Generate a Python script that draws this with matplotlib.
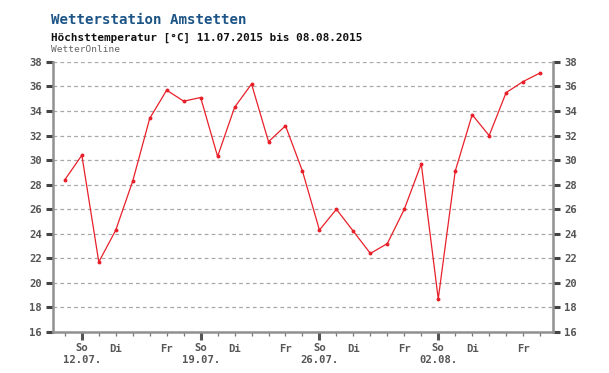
import matplotlib
matplotlib.use("Agg")
import matplotlib.pyplot as plt
import numpy as np

# Höchsttemperatur Amstetten, 11.07.2015 - 08.08.2015
temps = [28.4, 30.4, 21.7, 24.3, 28.3, 33.4, 35.7, 34.8, 35.1, 30.3,
         34.3, 36.2, 31.5, 32.8, 29.1, 24.3, 26.0, 24.2, 22.4, 23.2,
         26.0, 29.7, 18.7, 29.1, 33.7, 32.0, 35.5, 36.4, 37.1]
sunday_idx = [1, 8, 15, 22]
sunday_labels = ["So\n12.07.", "So\n19.07.", "So\n26.07.", "So\n02.08."]
weekday_idx = [3, 6, 10, 13, 17, 20, 24, 27]
weekday_labels = ["Di", "Fr", "Di", "Fr", "Di", "Fr", "Di", "Fr"]
y_ticks = list(range(16, 39, 2))

mono = "DejaVu Sans Mono"
axis_gray = "#909090"
label_gray = "#555555"

fig = plt.figure(figsize=(6.09, 3.73), dpi=100)
ax = fig.add_axes([0.087, 0.110, 0.821, 0.724])

days = np.arange(len(temps))
ax.plot(days, temps, color="#e8202a", linewidth=0.9, marker="o",
        markersize=1.8, zorder=3)

ax.set_xlim(-0.7, 28.76)
ax.set_ylim(16, 38)

ax.set_yticks(y_ticks)
ax.set_yticklabels([str(v) for v in y_ticks])
ax.yaxis.grid(True, color="#a8a8a8", linestyle=(0, (3, 2.5)), linewidth=0.9)
ax.set_axisbelow(True)

ax.set_xticks(sunday_idx)
ax.set_xticklabels(sunday_labels)
ax.set_xticks(list(days), minor=True)
ax.set_xticklabels(["" for _ in days], minor=True)
for i, lab in zip(weekday_idx, weekday_labels):
    ax.text(i, -0.043, lab, transform=ax.get_xaxis_transform(), ha="center",
            va="top", fontsize=7.6, fontweight="bold", family=mono,
            color=label_gray)

ax.tick_params(axis="y", which="major", left=True, right=True,
               labelleft=True, labelright=True, length=5, width=2.2,
               color="#444444", direction="out", labelsize=7.6,
               labelcolor=label_gray, pad=3)
ax.tick_params(axis="x", which="major", length=6, width=2.2, color="#555555",
               direction="out", labelsize=7.6, labelcolor=label_gray, pad=2)
ax.tick_params(axis="x", which="minor", length=3, width=0.9, color="#777777",
               direction="out")
for lab in ax.get_xticklabels() + ax.get_yticklabels():
    lab.set_family(mono)
    lab.set_fontweight("bold")
for lab in ax.get_xticklabels():
    lab.set_linespacing(1.25)

ax.spines["top"].set_visible(False)
for s in ["left", "right", "bottom"]:
    ax.spines[s].set_color(axis_gray)
    ax.spines[s].set_linewidth(1.8)

fig.text(0.0837, 0.946, "Wetterstation Amstetten", family=mono,
         fontsize=10.2, fontweight="bold", color="#1c5486", va="center")
fig.text(0.0837, 0.898, "Höchsttemperatur [°C] 11.07.2015 bis 08.08.2015",
         family=mono, fontsize=7.9, fontweight="bold", color="#111111",
         va="center")
fig.text(0.0837, 0.866, "WetterOnline", family=mono, fontsize=6.8,
         color="#666666", va="center")

fig.savefig("out.png", dpi=100)
